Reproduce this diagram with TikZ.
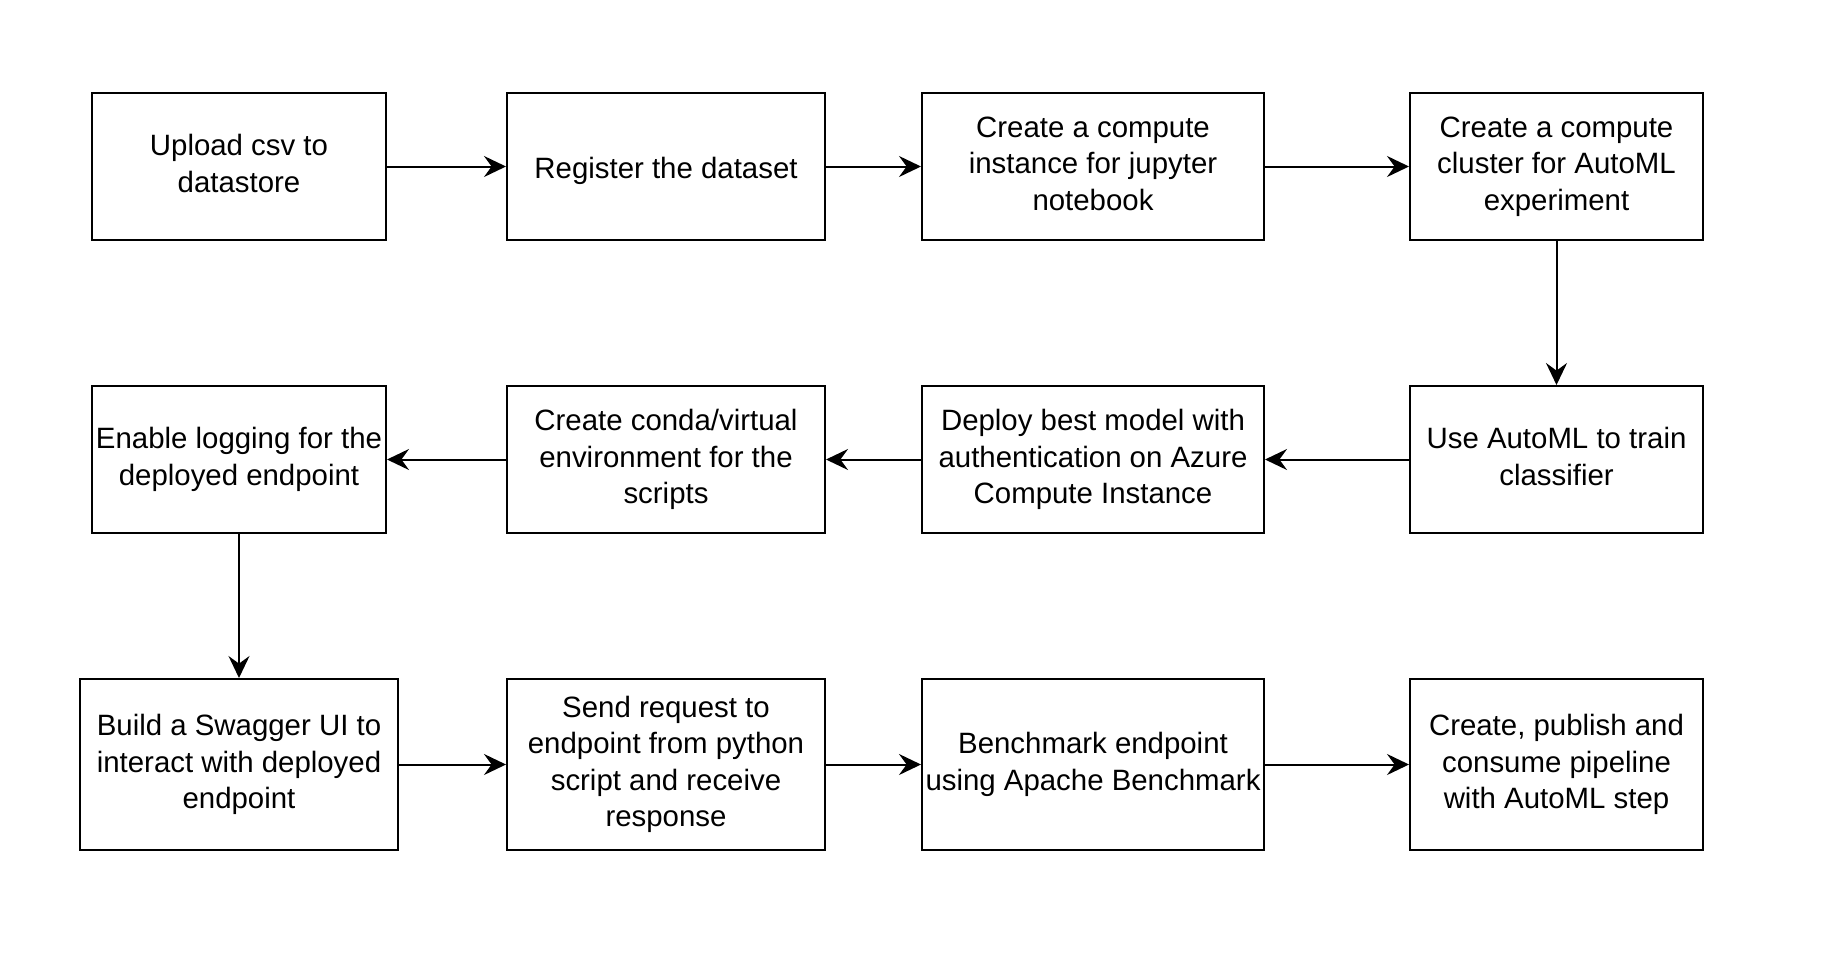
\documentclass[tikz,border=0pt]{standalone}
\usepackage{fontspec}
\setmainfont{Liberation Sans}
\usetikzlibrary{arrows.meta}
\newcommand\boxtopstrut{\rule{0pt}{15.2pt}}
\newcommand\boxbotstrut{\rule[-3pt]{0pt}{3pt}}
\tikzset{
  stepbox/.style={draw=black, line width=1pt, fill=white, align=center, inner sep=0pt,
    font=\fontsize{14.7pt}{18.2pt}\selectfont, text=black,
    execute at begin node=\boxtopstrut, execute at end node=\boxbotstrut},
  flow/.style={draw=black, line width=1pt, -{Stealth[length=11pt,width=10.5pt,inset=3.8pt]}}
}
\begin{document}
\begin{tikzpicture}[x=0.5pt,y=-0.5pt]
\useasboundingbox (0,0) rectangle (1840,958);
% row 1
\node[stepbox, minimum width=147pt, minimum height=73.5pt] (a1) at (239,166.5) {Upload csv to\\datastore};
\node[stepbox, minimum width=159pt, minimum height=73.5pt] (a2) at (666,166.5) {Register the dataset};
\node[stepbox, minimum width=171pt, minimum height=73.5pt] (a3) at (1093,166.5) {Create a compute\\instance for jupyter\\notebook};
\node[stepbox, minimum width=146.5pt, minimum height=73.5pt] (a4) at (1556.5,166.5) {Create a compute\\cluster for AutoML\\experiment};
% row 2
\node[stepbox, minimum width=147pt, minimum height=73.5pt] (b1) at (239,459.5) {Enable logging for the\\deployed endpoint};
\node[stepbox, minimum width=159pt, minimum height=73.5pt] (b2) at (666,459.5) {Create conda/virtual\\environment for the\\scripts};
\node[stepbox, minimum width=171pt, minimum height=73.5pt] (b3) at (1093,459.5) {Deploy best model with\\authentication on Azure\\Compute Instance};
\node[stepbox, minimum width=146.5pt, minimum height=73.5pt] (b4) at (1556.5,459.5) {Use AutoML to train\\classifier};
% row 3
\node[stepbox, minimum width=159pt, minimum height=85.5pt] (c1) at (239,764.5) {Build a Swagger UI to\\interact with deployed\\endpoint};
\node[stepbox, minimum width=159pt, minimum height=85.5pt] (c2) at (666,764.5) {Send request to\\endpoint from python\\script and receive\\response};
\node[stepbox, minimum width=171pt, minimum height=85.5pt] (c3) at (1093,764.5) {Benchmark endpoint\\using Apache Benchmark};
\node[stepbox, minimum width=146.5pt, minimum height=85.5pt] (c4) at (1556.5,764.5) {Create, publish and\\consume pipeline\\with AutoML step};
% connectors
\draw[flow] (a1) -- (a2);
\draw[flow] (a2) -- (a3);
\draw[flow] (a3) -- (a4);
\draw[flow] (a4) -- (b4);
\draw[flow] (b4) -- (b3);
\draw[flow] (b3) -- (b2);
\draw[flow] (b2) -- (b1);
\draw[flow] (b1) -- (c1);
\draw[flow] (c1) -- (c2);
\draw[flow] (c2) -- (c3);
\draw[flow] (c3) -- (c4);
\end{tikzpicture}
\end{document}
